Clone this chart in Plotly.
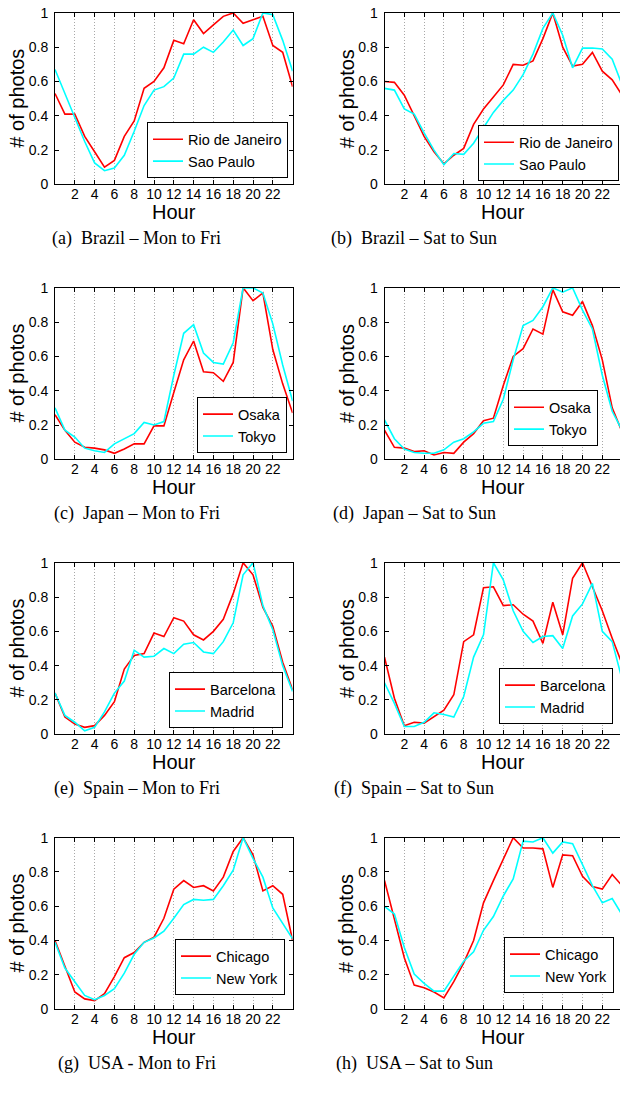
import plotly.graph_objects as go

# ---------------- data ----------------
hours = list(range(25))
x_tick_vals = list(range(2, 23, 2))
x_tick_text = [str(h) for h in x_tick_vals]
y_tick_vals = [0, 0.2, 0.4, 0.6, 0.8, 1]
y_tick_text = ["0", "0.2", "0.4", "0.6", "0.8", "1"]

brazil_wd_rio = [0.53, 0.41, 0.41, 0.28, 0.19, 0.10, 0.14, 0.28, 0.37, 0.56, 0.60, 0.68, 0.84, 0.82, 0.96, 0.88, 0.93, 0.98, 1.00, 0.94, 0.96, 0.98, 0.81, 0.77, 0.57]
brazil_wd_sp = [0.67, 0.53, 0.39, 0.25, 0.125, 0.08, 0.095, 0.17, 0.31, 0.46, 0.55, 0.57, 0.62, 0.76, 0.76, 0.80, 0.77, 0.83, 0.90, 0.81, 0.85, 1.00, 0.99, 0.84, 0.66]
brazil_we_rio = [0.60, 0.595, 0.52, 0.40, 0.28, 0.19, 0.12, 0.17, 0.21, 0.35, 0.44, 0.51, 0.58, 0.70, 0.695, 0.72, 0.85, 1.00, 0.80, 0.69, 0.70, 0.77, 0.66, 0.61, 0.52]
brazil_we_sp = [0.56, 0.55, 0.44, 0.41, 0.30, 0.20, 0.115, 0.18, 0.175, 0.24, 0.33, 0.42, 0.49, 0.55, 0.64, 0.76, 0.91, 1.00, 0.87, 0.68, 0.795, 0.795, 0.79, 0.73, 0.58]

japan_wd_osaka = [0.26, 0.17, 0.10, 0.07, 0.065, 0.055, 0.035, 0.06, 0.09, 0.09, 0.195, 0.195, 0.39, 0.58, 0.69, 0.51, 0.505, 0.455, 0.565, 1.00, 0.925, 0.97, 0.64, 0.44, 0.27]
japan_wd_tokyo = [0.30, 0.17, 0.13, 0.065, 0.05, 0.04, 0.09, 0.12, 0.15, 0.215, 0.20, 0.22, 0.49, 0.735, 0.785, 0.62, 0.565, 0.555, 0.68, 1.00, 1.00, 0.97, 0.79, 0.55, 0.34]
japan_we_osaka = [0.17, 0.07, 0.065, 0.045, 0.05, 0.025, 0.04, 0.035, 0.10, 0.15, 0.225, 0.24, 0.43, 0.60, 0.645, 0.76, 0.73, 0.99, 0.86, 0.84, 0.92, 0.78, 0.58, 0.30, 0.16]
japan_we_tokyo = [0.23, 0.12, 0.06, 0.04, 0.035, 0.035, 0.055, 0.10, 0.12, 0.16, 0.21, 0.22, 0.35, 0.58, 0.78, 0.81, 0.89, 1.00, 0.975, 1.00, 0.87, 0.76, 0.49, 0.28, 0.17]

spain_wd_bcn = [0.24, 0.10, 0.06, 0.04, 0.05, 0.11, 0.19, 0.38, 0.46, 0.47, 0.59, 0.57, 0.68, 0.66, 0.58, 0.55, 0.60, 0.67, 0.82, 1.00, 0.93, 0.74, 0.63, 0.42, 0.26]
spain_wd_mad = [0.24, 0.11, 0.07, 0.02, 0.04, 0.13, 0.24, 0.31, 0.49, 0.45, 0.455, 0.50, 0.47, 0.525, 0.535, 0.48, 0.47, 0.54, 0.65, 0.93, 1.00, 0.75, 0.61, 0.40, 0.25]
spain_we_bcn = [0.45, 0.21, 0.05, 0.07, 0.065, 0.10, 0.14, 0.23, 0.54, 0.58, 0.855, 0.86, 0.75, 0.755, 0.70, 0.66, 0.53, 0.77, 0.58, 0.91, 1.00, 0.86, 0.72, 0.56, 0.41]
spain_we_mad = [0.30, 0.18, 0.045, 0.045, 0.07, 0.125, 0.115, 0.10, 0.22, 0.45, 0.58, 1.00, 0.90, 0.72, 0.60, 0.535, 0.57, 0.575, 0.50, 0.69, 0.76, 0.88, 0.60, 0.54, 0.32]

usa_wd_chi = [0.40, 0.25, 0.10, 0.06, 0.05, 0.09, 0.19, 0.30, 0.33, 0.39, 0.42, 0.53, 0.70, 0.75, 0.71, 0.72, 0.69, 0.77, 0.92, 1.00, 0.90, 0.69, 0.72, 0.67, 0.40]
usa_wd_ny = [0.39, 0.24, 0.16, 0.08, 0.055, 0.08, 0.12, 0.21, 0.32, 0.39, 0.415, 0.455, 0.53, 0.61, 0.64, 0.635, 0.64, 0.72, 0.81, 1.00, 0.88, 0.77, 0.59, 0.50, 0.41]
usa_we_chi = [0.75, 0.52, 0.30, 0.14, 0.125, 0.10, 0.065, 0.16, 0.27, 0.40, 0.62, 0.75, 0.875, 1.00, 0.94, 0.94, 0.935, 0.71, 0.90, 0.895, 0.775, 0.715, 0.70, 0.785, 0.72]
usa_we_ny = [0.60, 0.555, 0.36, 0.205, 0.15, 0.105, 0.105, 0.195, 0.28, 0.335, 0.46, 0.54, 0.66, 0.76, 0.98, 0.975, 1.00, 0.91, 0.975, 0.965, 0.84, 0.72, 0.62, 0.645, 0.55]

captions = [
    "(a)  Brazil – Mon to Fri", "(b)  Brazil – Sat to Sun",
    "(c)  Japan – Mon to Fri", "(d)  Japan – Sat to Sun",
    "(e)  Spain – Mon to Fri", "(f)  Spain – Sat to Sun",
    "(g)  USA - Mon to Fri", "(h)  USA – Sat to Sun",
]
series_names = [
    ("Rio de Janeiro", "Sao Paulo"), ("Rio de Janeiro", "Sao Paulo"),
    ("Osaka", "Tokyo"), ("Osaka", "Tokyo"),
    ("Barcelona", "Madrid"), ("Barcelona", "Madrid"),
    ("Chicago", "New York"), ("Chicago", "New York"),
]
series_values = [
    (brazil_wd_rio, brazil_wd_sp), (brazil_we_rio, brazil_we_sp),
    (japan_wd_osaka, japan_wd_tokyo), (japan_we_osaka, japan_we_tokyo),
    (spain_wd_bcn, spain_wd_mad), (spain_we_bcn, spain_we_mad),
    (usa_wd_chi, usa_wd_ny), (usa_we_chi, usa_we_ny),
]

# ---------------- layout geometry (pixels) ----------------
W, H = 620, 1095
px_per_hour = 9.9
left_x0 = 55.0
right_x0 = 384.5
row_tops = [5, 284, 563, 842]
plot_h = 174
row_pitch = 279
legend_boxes = [  # (right edge px, top px)
    (288, 116), (619, 119),
    (287, 395), (598, 388),
    (283, 674), (613, 670),
    (285, 945), (614, 943),
]

RED = "#FF0000"
CYAN = "#00FFFF"
SANS = "Liberation Sans, Arial, sans-serif"
SERIF = "Liberation Serif, Times New Roman, serif"

fig = go.Figure()
layout = dict(
    width=W, height=H, margin=dict(l=0, r=0, t=0, b=0),
    paper_bgcolor="white", plot_bgcolor="white",
    showlegend=True,
)
annotations = []

for i in range(8):
    r, c = divmod(i, 2)
    idx = "" if i == 0 else str(i + 1)
    xa = "x" + idx
    ya = "y" + idx
    leg = "legend" + idx
    x0 = left_x0 if c == 0 else right_x0
    x_end_px = x0 + 24 * px_per_hour
    if x_end_px > W:
        x_end_px = W
    xmax = (x_end_px - x0) / px_per_hour
    top = row_tops[r]
    bot = top + plot_h

    n1, n2 = series_names[i]
    v1, v2 = series_values[i]
    fig.add_trace(go.Scatter(x=hours, y=v1, name=n1, mode="lines",
                             line=dict(color=RED, width=1.6),
                             xaxis=xa, yaxis=ya, legend=leg))
    fig.add_trace(go.Scatter(x=hours, y=v2, name=n2, mode="lines",
                             line=dict(color=CYAN, width=1.6),
                             xaxis=xa, yaxis=ya, legend=leg))

    layout["xaxis" + idx] = dict(
        domain=[x0 / W, x_end_px / W], range=[0, xmax], anchor=ya,
        tickmode="array", tickvals=x_tick_vals, ticktext=x_tick_text,
        ticks="inside", ticklen=4, tickcolor="black",
        showline=True, linecolor="black", linewidth=1,
        mirror="ticks",
        showgrid=True, gridcolor="#a8a8a8", griddash="1px,2px", gridwidth=1,
        zeroline=False,
        tickfont=dict(family=SANS, size=14, color="black"),
        ticklabelstandoff=-3,
        fixedrange=True,
    )
    layout["yaxis" + idx] = dict(
        domain=[1 - bot / H, 1 - top / H], range=[0, 1], anchor=xa,
        tickmode="array", tickvals=y_tick_vals, ticktext=y_tick_text,
        ticks="inside", ticklen=4, tickcolor="black",
        showline=True, linecolor="black", linewidth=1,
        mirror="ticks" if c == 0 else False,
        showgrid=False, zeroline=False,
        tickfont=dict(family=SANS, size=14, color="black"),
        ticklabelstandoff=3,
        fixedrange=True,
    )
    rx, ty = legend_boxes[i]
    layout[leg] = dict(
        x=rx / W, y=1 - ty / H, xanchor="right", yanchor="top",
        xref="paper", yref="paper",
        bgcolor="white", bordercolor="black", borderwidth=1,
        font=dict(family=SANS, size=14.5, color="black"),
        tracegroupgap=0, itemwidth=30,
    )

    # axis titles
    annotations.append(dict(
        text="Hour", x=(x0 + 12 * px_per_hour) / W, y=1 - (bot + 28) / H,
        xref="paper", yref="paper", xanchor="center", yanchor="middle",
        showarrow=False, font=dict(family=SANS, size=20, color="black")))
    annotations.append(dict(
        text="# of photos", x=(x0 - 38) / W, y=1 - (top + plot_h / 2) / H,
        xref="paper", yref="paper", xanchor="center", yanchor="middle",
        textangle=-90, showarrow=False,
        font=dict(family=SANS, size=20, color="black")))
    # caption
    cap_x = 136.5 if c == 0 else 414
    annotations.append(dict(
        text=captions[i], x=cap_x / W, y=1 - (234 + r * row_pitch) / H,
        xref="paper", yref="paper", xanchor="center", yanchor="middle",
        showarrow=False, font=dict(family=SERIF, size=18, color="black")))

layout["annotations"] = annotations
fig.update_layout(**layout)
fig.write_html("out.html")
